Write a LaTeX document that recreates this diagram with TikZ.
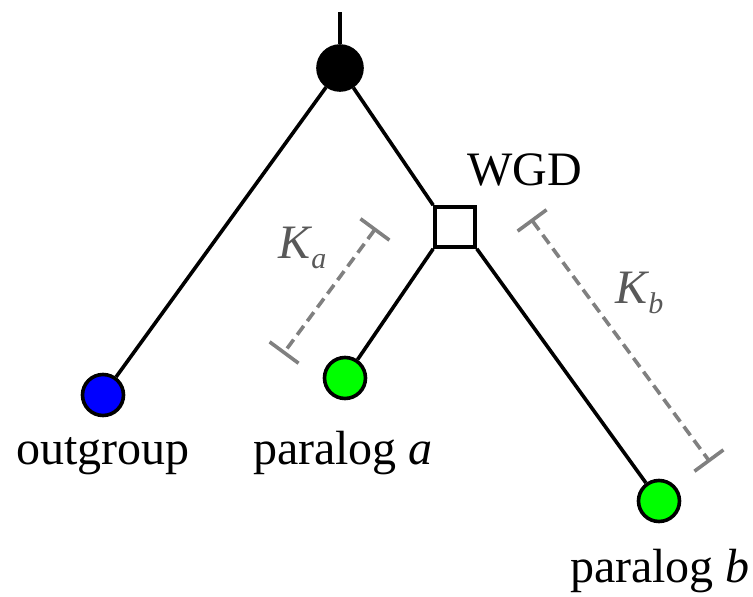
\documentclass[tikz,border=0pt]{standalone}
\usepackage{fontspec}
\setmainfont{Liberation Serif}
\usetikzlibrary{arrows.meta}
\begin{document}
\begin{tikzpicture}[x=1pt,y=-1pt,
  branch/.style={line width=3.6pt,black},
  leaf/.style={circle,draw=black,line width=3.6pt,minimum size=41pt,inner sep=0pt},
  event/.style={rectangle,draw=black,line width=3.6pt,minimum size=40pt,inner sep=0pt,fill=white},
  lbl/.style={anchor=base,inner sep=0pt,font=\fontsize{48}{58}\selectfont},
  dist/.style={line width=3.6pt,gray,dash pattern=on 11pt off 6pt,{Bar[width=36pt,line width=3.6pt]}-{Bar[width=36pt,line width=3.6pt]}},
  distlbl/.style={anchor=base west,inner sep=0pt,text=black!65,font=\fontsize{48}{58}\selectfont}]
\useasboundingbox (0,0) rectangle (753,597);
% tree nodes
\coordinate (top) at (340,12);
\node[leaf,fill=black,minimum size=44pt] (root) at (340,68) {};
\node[event] (wgd) at (455,227) {};
\node[leaf,fill=blue] (out) at (103,395) {};
\node[leaf,fill=green] (pa) at (345,378) {};
\node[leaf,fill=green] (pb) at (659,501) {};
% branches
\draw[branch] (top) -- (root);
\draw[branch] (root) -- (out);
\draw[branch] (root) -- (wgd.north west);
\draw[branch] (wgd.south west) -- (pa);
\draw[branch] (wgd.south east) -- (pb);
% labels
\node[lbl] (wgdl) at (525,185) {WGD};
\node[lbl] (outl) at (103,464) {outgroup};
\node[lbl] (pal) at (343,464) {paralog \textit{a}};
\node[lbl] (pbl) at (660,582) {paralog \textit{b}};
% divergence distances
\coordinate (ka1) at (376,228);
\coordinate (ka2) at (283,354);
\coordinate (kb1) at (531,219);
\coordinate (kb2) at (710,462);
\draw[dist] (ka1) -- (ka2);
\draw[dist] (kb1) -- (kb2);
\node[distlbl] (kal) at (278,258) {\textit{K}\kern-1pt\raisebox{-10pt}{\fontsize{30}{36}\selectfont\textit{a}}};
\node[distlbl] (kbl) at (615,303) {\textit{K}\kern-1pt\raisebox{-10pt}{\fontsize{30}{36}\selectfont\textit{b}}};
\end{tikzpicture}
\end{document}
